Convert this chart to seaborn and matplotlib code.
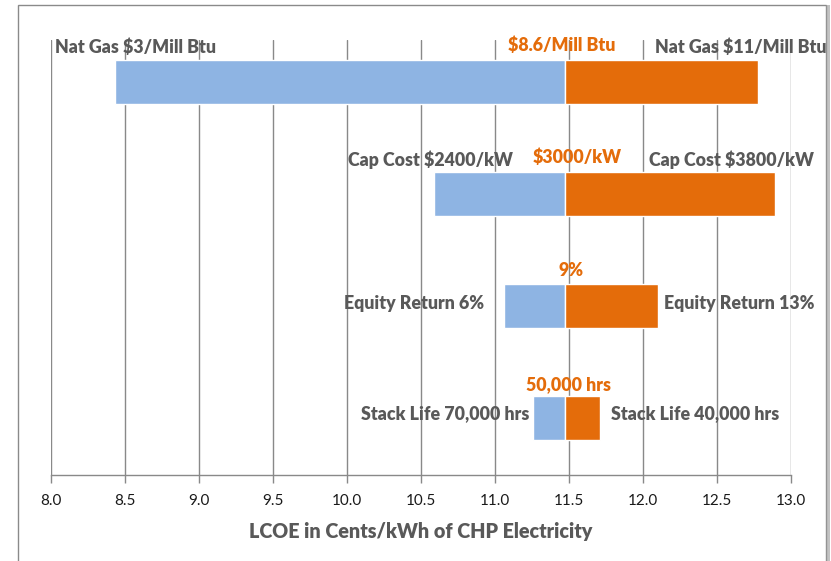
import matplotlib
matplotlib.use("Agg")
import matplotlib.pyplot as plt
import seaborn as sns
import numpy as np
from matplotlib.patches import Rectangle

# ---- data ----
factors = ["Nat Gas", "Cap Cost", "Equity Return", "Stack Life"]
base_value = 11.47
low_values = [8.43, 10.59, 11.06, 11.26]
high_values = [12.78, 12.89, 12.10, 11.71]
low_labels = ["Nat Gas $3/Mill Btu", "Cap Cost $2400/kW", "Equity Return 6%", "Stack Life 70,000 hrs"]
base_labels = ["$8.6/Mill Btu", "$3000/kW", "9%", "50,000 hrs"]
high_labels = ["Nat Gas $11/Mill Btu", "Cap Cost $3800/kW", "Equity Return 13%", "Stack Life 40,000 hrs"]
x_ticks = [8.0, 8.5, 9.0, 9.5, 10.0, 10.5, 11.0, 11.5, 12.0, 12.5, 13.0]
x_label = "LCOE in Cents/kWh of CHP Electricity"

# ---- layout (text positions in data coords) ----
low_lab_pos = [(8.574, -0.3125), (10.561, 0.696), (10.453, 1.982), (10.662, 2.964)]
base_lab_pos = [(11.453, -0.33), (11.554, 0.67), (11.514, 1.68), (11.50, 2.70)]
high_lab_pos = [(12.662, -0.3125), (12.595, 0.696), (12.649, 1.982), (12.351, 2.964)]

sns.set_theme(style="white")
plt.rcParams['font.family'] = ['Lato', 'DejaVu Sans']

BLUE = "#8EB4E3"
ORANGE = "#E46C0A"
GRAY_TXT = "#595959"
GRID = "#898989"

W, H = 831, 561
fig = plt.figure(figsize=(W / 100, H / 100), dpi=100)
ax = fig.add_axes([51 / W, 1 - 475 / H, (791 - 51) / W, (475 - 40) / H])

# frame around chart
fig.patches.append(Rectangle((18 / W, -0.05), (826 - 18) / W, 1.05 - 5 / H,
                             transform=fig.transFigure, fill=False,
                             edgecolor="#8a8a8a", linewidth=1.0))
fig.patches.append(Rectangle((826 / W, -0.05), 4 / W, 1.05 - 5 / H,
                             transform=fig.transFigure, facecolor="#9a9a9a",
                             edgecolor="none", alpha=0.6))

y = np.arange(len(factors))
low = np.array(low_values)
high = np.array(high_values)
bar_h = 0.385
ax.barh(y, base_value - low, left=low, height=bar_h, color=BLUE, zorder=3)
ax.barh(y, high - base_value, left=base_value, height=bar_h, color=ORANGE, zorder=3)

ax.set_xlim(8.0, 13.0)
ax.set_ylim(3.509, -0.375)
ax.set_xticks(x_ticks)
ax.set_xticklabels([f"{t:.1f}" for t in x_ticks], fontsize=11, color="#1a1a1a")
ax.set_yticks([])
for t in x_ticks:
    ax.axvline(t, color=GRID, linewidth=1.0, zorder=1)

for s in ["top", "right", "left"]:
    ax.spines[s].set_visible(False)
ax.spines["bottom"].set_color(GRID)
ax.spines["bottom"].set_linewidth(1.0)
ax.tick_params(axis="x", which="both", direction="out", length=6, width=1.0,
               color=GRID, pad=8, bottom=True)

ax.set_xlabel(x_label, fontsize=14.2, fontweight="heavy", color=GRAY_TXT, labelpad=10)

LBL_FS = 12.8
for i in range(len(factors)):
    ax.text(*low_lab_pos[i], low_labels[i], ha="center", va="center",
            fontsize=LBL_FS, fontweight="heavy", color=GRAY_TXT, zorder=5)
    ax.text(*base_lab_pos[i], base_labels[i], ha="center", va="center",
            fontsize=LBL_FS, fontweight="heavy", color=ORANGE, zorder=5)
    ax.text(*high_lab_pos[i], high_labels[i], ha="center", va="center",
            fontsize=LBL_FS, fontweight="heavy", color=GRAY_TXT, zorder=5)

fig.savefig("out.png", dpi=100)
